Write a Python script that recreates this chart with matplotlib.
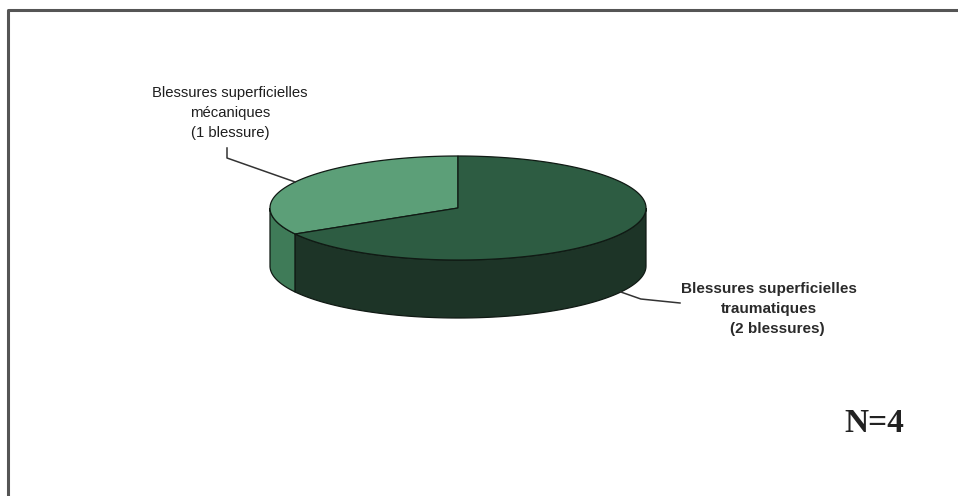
import numpy as np
import matplotlib
matplotlib.use("Agg")
import matplotlib.pyplot as plt
from matplotlib.patches import Polygon

# ---- data ----
categories = ["Blessures superficielles\nmécaniques\n(1 blessure)",
              "Blessures superficielles\ntraumatiques\n    (2 blessures)"]
values = [1, 2]
n_label = "N=4"

top_colors = ["#5c9f78", "#2d5c42"]
side_colors = ["#3f7b58", "#1d3427"]

# ---- layout (pixels) ----
W, H = 958, 496
cx, cy = 458, 208
a, b = 188, 52
depth = 58
start = 90.0

fig = plt.figure(figsize=(W / 100, H / 100), dpi=100)
ax = fig.add_axes([0, 0, 1, 1])
ax.set_xlim(0, W)
ax.set_ylim(H, 0)
ax.axis("off")

# frame
ax.plot([8, 8, W], [H, 9.5, 9.5], color="#555555", lw=2.2, solid_capstyle="butt")


def pt(t, dz=0.0):
    r = np.radians(t)
    return cx + a * np.cos(r), cy - b * np.sin(r) + dz


total = sum(values)
angles = []
t0 = start
for v in values:
    t1 = t0 + 360.0 * v / total
    angles.append((t0, t1))
    t0 = t1

# side walls (visible part: 180..360 deg mod 360)
for (t0, t1), sc in zip(angles, side_colors):
    segs = []
    lo, hi = max(t0, 180.0), min(t1, 360.0)
    if hi > lo:
        segs.append((lo, hi))
    lo2, hi2 = max(t0 - 360, 180.0), min(t1 - 360, 360.0)
    if hi2 > lo2:
        segs.append((lo2, hi2))
    for lo, hi in segs:
        ts = np.linspace(lo, hi, 120)
        topx, topy = pt(ts)
        botx, boty = pt(ts[::-1], depth)
        xs = np.concatenate([topx, botx])
        ys = np.concatenate([topy, boty])
        ax.add_patch(Polygon(np.column_stack([xs, ys]), closed=True,
                             facecolor=sc, edgecolor="#101a14", lw=0.9, zorder=2))

# top faces
for (t0, t1), tc in zip(angles, top_colors):
    ts = np.linspace(t0, t1, 200)
    xs, ys = pt(ts)
    poly = np.column_stack([np.concatenate([[cx], xs]), np.concatenate([[cy], ys])])
    ax.add_patch(Polygon(poly, closed=True, facecolor=tc, edgecolor="#101a14",
                         lw=0.9, zorder=3))

# labels and leader lines
mid0 = np.mean(angles[0])
ax0, ay0 = pt(mid0)
ax.plot([227, 227, ax0], [148, 158, ay0], color="#333333", lw=1.1, zorder=4)
ax.text(230, 113, categories[0], ha="center", va="center", multialignment="center",
        fontsize=10.7, family="Liberation Sans", color="#1e1e1e", linespacing=1.5)

mid1 = np.mean(angles[1])
bx0, by0 = pt(mid1, depth)
ax.plot([bx0, bx0 + 20, 680], [by0, by0 + 7, by0 + 11], color="#333333", lw=1.1, zorder=4)
ax.text(769, 309, categories[1], ha="center", va="center", multialignment="center",
        fontsize=11, family="Liberation Sans", weight="bold", color="#2a2a2a",
        linespacing=1.5)

ax.text(874, 423, n_label, ha="center", va="center", fontsize=24,
        family="Liberation Serif", weight="bold", color="#222222")

fig.savefig("out.png", dpi=100)
